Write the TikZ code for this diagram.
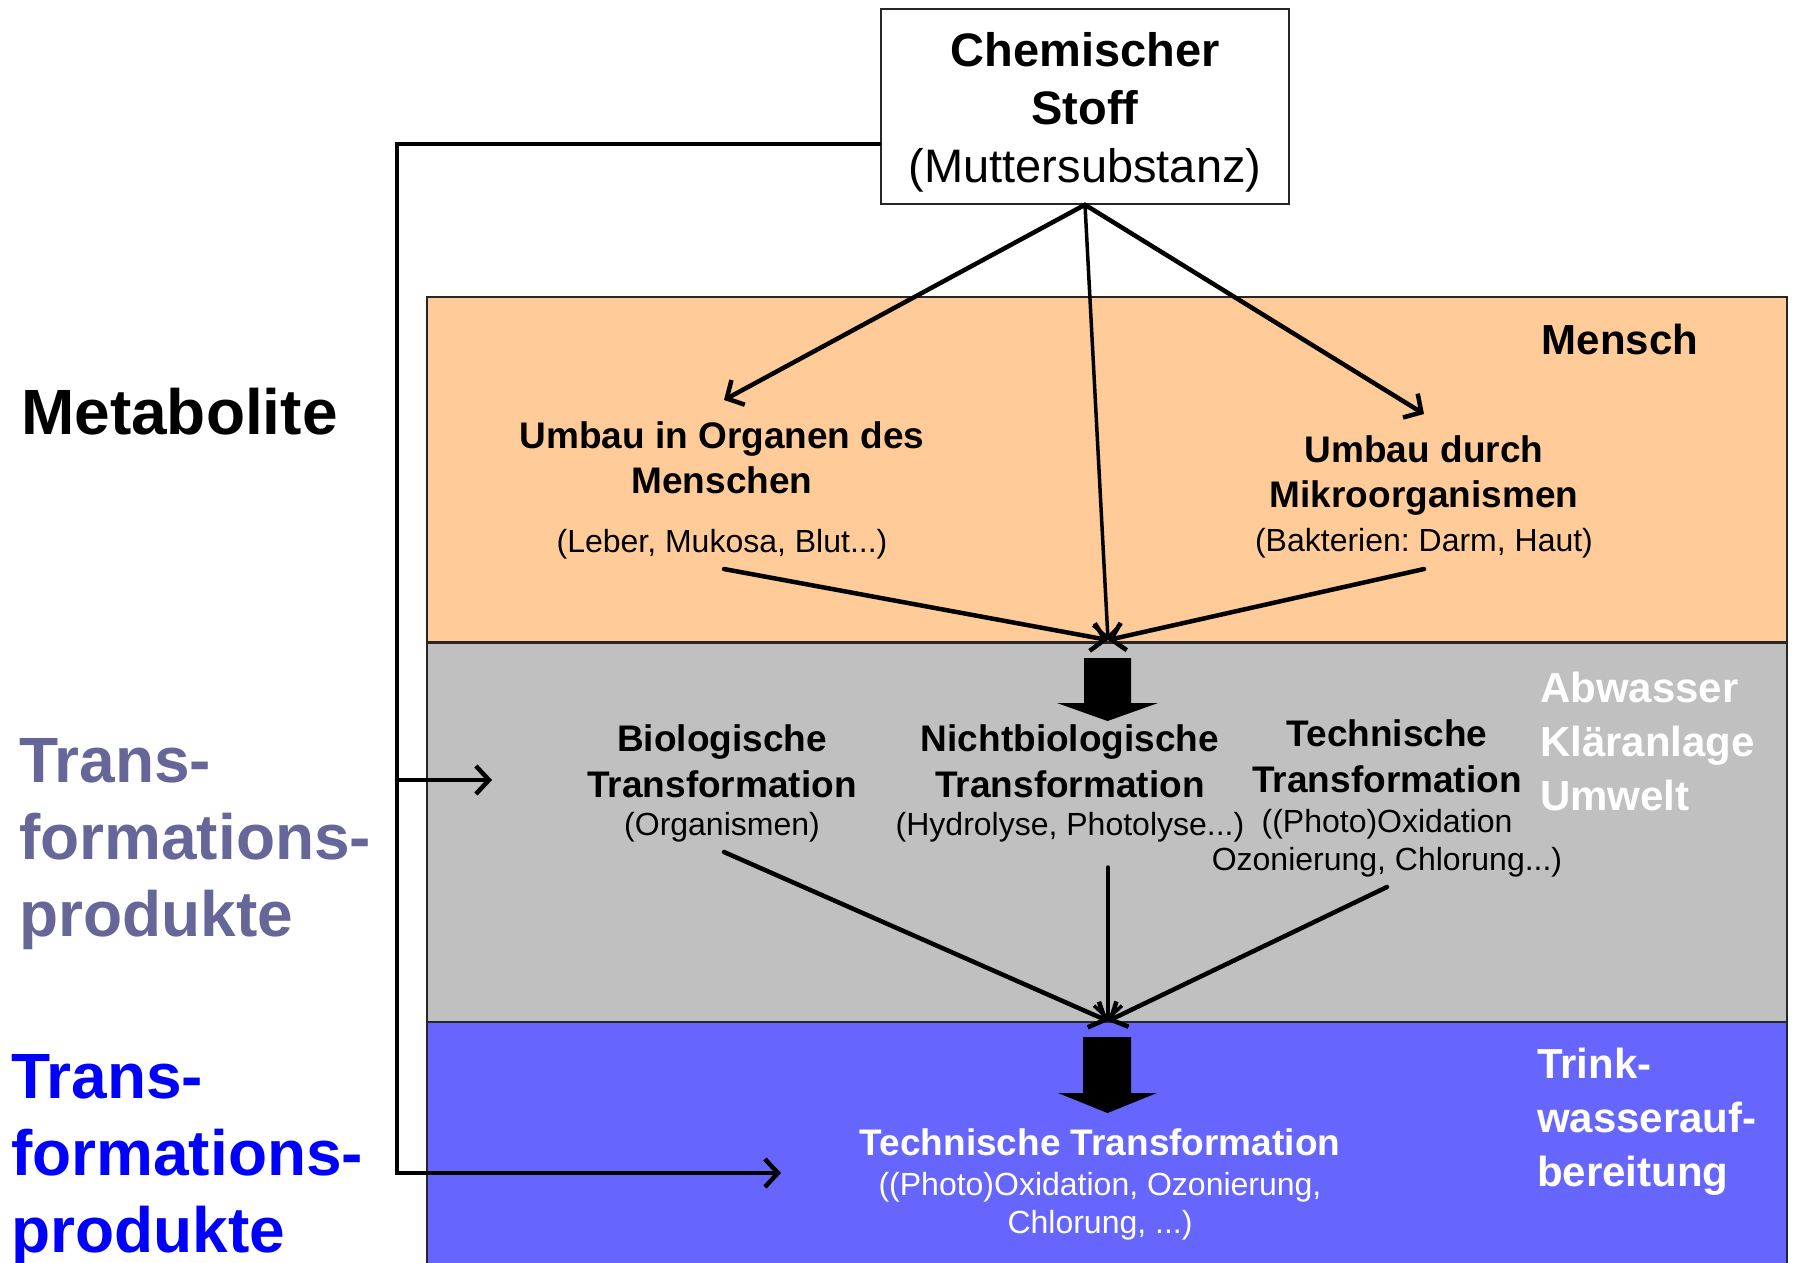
\documentclass[tikz,border=0pt]{standalone}
\usepackage{fontspec}
\setmainfont{Liberation Sans}
\usetikzlibrary{arrows.meta}
\definecolor{peach}{HTML}{FFCC99}
\definecolor{greyz}{HTML}{C0C0C0}
\definecolor{bluez}{HTML}{6666FF}
\definecolor{slate}{HTML}{666699}
\frenchspacing
\begin{document}
\begin{tikzpicture}[x=1pt,y=-1pt,
  conn/.style={line width=4.5pt, line cap=round, line join=miter},
  arr/.style={conn, -{Straight Barb[length=13pt,width=28pt]}},
  zone/.style={draw=black!85, line width=2pt},
  hb/.style={font=\bfseries\fontsize{37}{45}\selectfont, align=center, inner sep=0pt},
  rg/.style={font=\fontsize{32}{38}\selectfont, align=center, inner sep=0pt},
  side/.style={font=\bfseries\fontsize{64}{77}\selectfont, align=left, inner sep=0pt, anchor=west},
  zlabel/.style={font=\bfseries\fontsize{42}{54}\selectfont, align=left, inner sep=0pt, anchor=west, text=white},
  fat/.style={fill=black, draw=none}
]
\useasboundingbox (0,0) rectangle (1794,1262);
\fill[white] (0,0) rectangle (1794,1262);
% zones
\draw[zone, fill=peach] (427,297) rectangle (1787,642);
\draw[zone, fill=greyz] (427,643) rectangle (1787,1022);
\draw[zone, fill=bluez] (427,1022) rectangle (1787,1270);

% source box
\node[draw=black!85, line width=1.5pt, fill=white, minimum width=408pt, minimum height=195pt,
      inner sep=0pt] (chem) at (1085,106.5) {};
\node[font=\fontsize{47}{58}\selectfont, align=center, inner sep=0pt] (chemt) at (1085,112)
      {\textbf{Chemischer}\\\textbf{Stoff}\\(Muttersubstanz)};

% side labels
\node[side] (meta) at (21,412) {Metabolite};
\node[side, text=slate] (tp1) at (19,844) {Trans-\\formations-\\produkte};
\node[side, text=blue] (tp2) at (11,1160) {Trans-\\formations-\\produkte};

% zone labels
\node[font=\bfseries\fontsize{42}{54}\selectfont, inner sep=0pt] (mensch) at (1620,339) {Mensch};
\node[zlabel] (abw) at (1540,741) {Abwasser\\Kläranlage\\Umwelt};
\node[zlabel] (trink) at (1537,1122) {Trink-\\wasserauf-\\bereitung};

% orange texts
\node[hb] (um1) at (722,458) {Umbau in Organen des\\Menschen};
\node[rg] (um1s) at (722,544) {(Leber, Mukosa, Blut...)};
\node[hb] (um2) at (1424,476) {Umbau durch\\Mikroorganismen};
\node[rg] (um2s) at (1424,543) {(Bakterien: Darm, Haut)};

% grey texts
\node[hb, font=\bfseries\fontsize{37}{46}\selectfont] (bio) at (722,761) {Biologische\\Transformation};
\node[rg] (bios) at (722,827) {(Organismen)};
\node[hb, font=\bfseries\fontsize{37}{46}\selectfont] (nbio) at (1070,761) {Nichtbiologische\\Transformation};
\node[rg] (nbios) at (1070,827) {(Hydrolyse, Photolyse...)};
\node[hb, font=\bfseries\fontsize{37}{46}\selectfont] (tech) at (1387,756) {Technische\\Transformation};
\node[rg] (techs) at (1387,843) {((Photo)Oxidation\\Ozonierung, Chlorung...)};

% blue texts
\node[hb, text=white] (tt) at (1100,1142) {Technische Transformation};
\node[rg, text=white] (tts) at (1100,1206) {((Photo)Oxidation, Ozonierung,\\Chlorung, ...)};

% fat arrows
\fill[fat] (1084,658) -- (1131,658) -- (1131,703) -- (1158,703) -- (1107.5,721) -- (1057,703) -- (1084,703) -- cycle;
\fill[fat] (1083,1037) -- (1131,1037) -- (1131,1093) -- (1157,1093) -- (1107.5,1113) -- (1058,1093) -- (1083,1093) -- cycle;

% coordinates
\coordinate (tA) at (724,400);
\coordinate (tB) at (1424,414);
\coordinate (hubA) at (1108,640);
\coordinate (sA) at (724,569);
\coordinate (sB) at (1424,569);
\coordinate (hubB) at (1108,1021);
\coordinate (gA) at (724,852);
\coordinate (gB) at (1108,867);
\coordinate (gC) at (1387,887);
\coordinate (cL) at (881,144);
\coordinate (cTL) at (397,144);
\coordinate (cBL) at (397,1173);
\coordinate (tBot) at (781,1173);
\coordinate (cMid) at (397,780);
\coordinate (tMid) at (492,780);

% connectors
\draw[arr] (chem.south) -- (tA);
\draw[arr] (chem.south) -- (tB);
\draw[arr, line width=3.5pt] (chem.south) -- (hubA);
\draw[arr] (sA) -- (hubA);
\draw[arr] (sB) -- (hubA);
\draw[arr] (gA) -- (hubB);
\draw[arr, line width=3.5pt] (gB) -- (hubB);
\draw[arr] (gC) -- (hubB);
\draw[arr, line width=4.5pt, line cap=butt] (cL) -- (cTL) -- (cBL) -- (tBot);
\draw[arr] (cMid) -- (tMid);
\end{tikzpicture}
\end{document}
